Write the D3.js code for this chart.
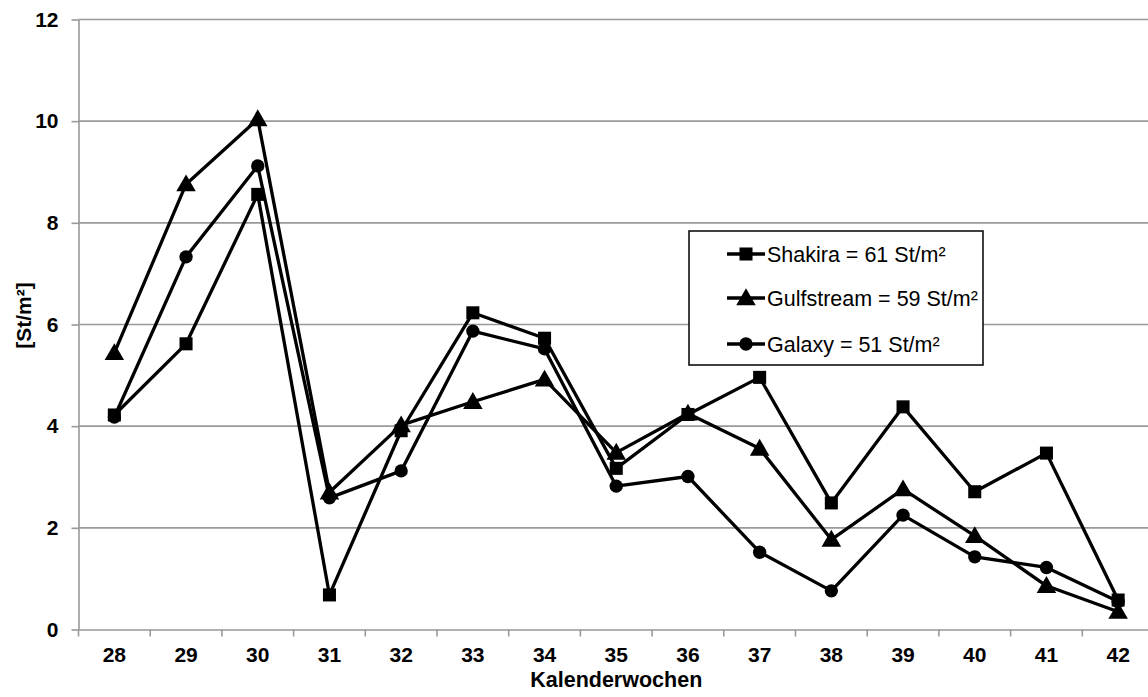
<!DOCTYPE html>
<html><head><meta charset="utf-8">
<script src="https://cdn.jsdelivr.net/npm/d3@7/dist/d3.min.js"></script>
<style>body{margin:0;background:#fff}svg{display:block}text{font-family:"Liberation Sans",Arial,sans-serif}</style>
</head><body><svg id="c" width="1148" height="697"></svg>
<script>
const weeks = ["28","29","30","31","32","33","34","35","36","37","38","39","40","41","42"];
const shakira = [4.22,5.62,8.56,0.68,3.91,6.23,5.73,3.17,4.23,4.96,2.49,4.38,2.71,3.47,0.58];
const gulfstream = [5.44,8.76,10.04,2.70,4.02,4.48,4.92,3.48,4.25,3.56,1.77,2.76,1.84,0.86,0.35];
const galaxy = [4.18,7.33,9.12,2.59,3.12,5.87,5.52,2.82,3.01,1.52,0.76,2.25,1.43,1.22,0.55];
const seriesNames = ["Shakira = 61 St/m²","Gulfstream = 59 St/m²","Galaxy = 51 St/m²"];
const yTicks = [0,2,4,6,8,10,12];

const svg = d3.select("#c");
const L = 78.5, R = 1154, T = 19.5, B = 629.5;
const x = d3.scaleBand().domain(weeks).range([L, R]);
const y = d3.scaleLinear().domain([0,12]).range([B, T]);
const FF = '"Liberation Sans",Arial,sans-serif';

// gridlines
svg.append("g").selectAll("line").data(yTicks.filter(d=>d>0)).join("line")
  .attr("x1", L).attr("x2", R).attr("y1", d=>y(d)).attr("y2", d=>y(d))
  .attr("stroke", "#999").attr("stroke-width", 1.6);

// y axis
const ya = svg.append("g").attr("transform", `translate(${L},0)`)
  .call(d3.axisLeft(y).tickValues(yTicks).tickSize(7).tickPadding(13).tickSizeOuter(0));
ya.select(".domain").attr("stroke", "#999").attr("stroke-width", 1.6);
ya.selectAll(".tick line").attr("stroke", "#999").attr("stroke-width", 1.6);
ya.selectAll("text").attr("font-size", 21).attr("font-weight", "bold").attr("fill", "#000")
  .attr("font-family", FF);

// x axis
const xa = svg.append("g").attr("transform", `translate(0,${B})`)
  .call(d3.axisBottom(x).tickSize(0).tickPadding(18).tickSizeOuter(0));
xa.select(".domain").attr("stroke", "#999").attr("stroke-width", 1.6);
xa.selectAll("text").attr("font-size", 21).attr("font-weight", "bold").attr("fill", "#000")
  .attr("font-family", FF);
// category boundary ticks
const bounds = weeks.map(w => x(w)).concat([R]);
svg.append("g").selectAll("line").data(bounds).join("line")
  .attr("x1", d=>d).attr("x2", d=>d).attr("y1", B).attr("y2", B+7)
  .attr("stroke", "#999").attr("stroke-width", 1.6);

// titles
svg.append("text").attr("x", x("35")+x.bandwidth()/2).attr("y", 687)
  .attr("text-anchor","middle").attr("font-size", 21.5).attr("font-weight","bold").text("Kalenderwochen");
svg.append("text").attr("transform", `translate(31,${(T+B)/2 - 9}) rotate(-90)`)
  .attr("text-anchor","middle").attr("font-size", 21).attr("font-weight","bold").text("[St/m²]");

const cx = (d,i) => x(weeks[i]) + x.bandwidth()/2;
const line = d3.line().x(cx).y(d=>y(d));
const data = [shakira, gulfstream, galaxy];
const shapes = [d3.symbolSquare, d3.symbolTriangle, d3.symbolCircle];
const sizes = [170, 165, 140];

data.forEach((s, k) => {
  svg.append("path").datum(s).attr("d", line).attr("fill","none")
    .attr("stroke","#000").attr("stroke-width", 3.3).attr("stroke-linejoin","round");
});
data.forEach((s, k) => {
  svg.append("g").selectAll("path").data(s).join("path")
    .attr("transform", (d,i)=>`translate(${cx(d,i)},${y(d) + (k===1?1.5:0)})`)
    .attr("d", d3.symbol().type(shapes[k]).size(sizes[k])).attr("fill","#000");
});

// legend
const lg = svg.append("g");
lg.append("rect").attr("x", 689).attr("y", 231).attr("width", 294).attr("height", 134)
  .attr("fill","#fff").attr("stroke","#000").attr("stroke-width",1.5);
const rowsY = [254, 298, 344];
seriesNames.forEach((n, k) => {
  const yy = rowsY[k];
  lg.append("line").attr("x1", 727).attr("x2", 765).attr("y1", yy).attr("y2", yy)
    .attr("stroke","#000").attr("stroke-width",3.3);
  lg.append("path").attr("transform", `translate(746,${yy + (k===1?1.5:0)})`)
    .attr("d", d3.symbol().type(shapes[k]).size(sizes[k])).attr("fill","#000");
  lg.append("text").attr("x", 767).attr("y", yy).attr("dy","0.36em")
    .attr("font-size", 21.5).attr("font-family", FF).text(n);
});
</script></body></html>
